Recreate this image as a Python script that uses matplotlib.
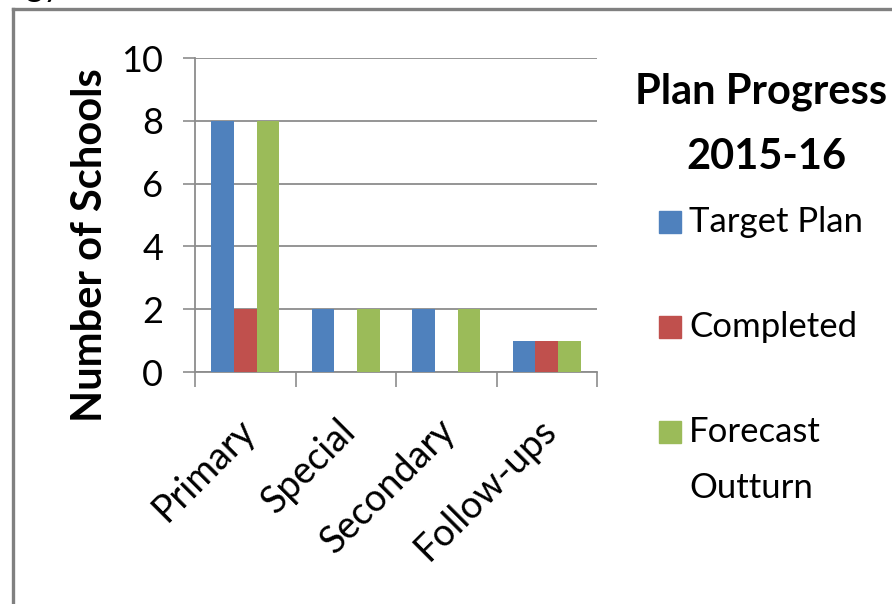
"""Plan progress 2015-16 clustered bar chart."""

import matplotlib

matplotlib.use("Agg")
import matplotlib.pyplot as plt
import matplotlib.transforms as mtransforms
import numpy as np
from matplotlib.lines import Line2D
from matplotlib.patches import Rectangle

categories = ["Primary", "Special", "Secondary", "Follow-ups"]
series_names = ["Target Plan", "Completed", "Forecast\nOutturn"]
target_plan = [8, 2, 2, 1]
completed = [2, 0, 0, 1]
forecast_outturn = [8, 2, 2, 1]
y_ticks = [0, 2, 4, 6, 8, 10]

series_values = [target_plan, completed, forecast_outturn]
colors = ["#4F81BD", "#C0504D", "#9BBB59"]

plt.rcParams["font.family"] = ["Lato", "DejaVu Sans"]

W, H = 892, 604
fig = plt.figure(figsize=(W / 100, H / 100), dpi=100)
ax = fig.add_axes([195 / W, 1 - 372 / H, 402 / W, 314 / H])

x = np.arange(len(categories))
bar_w = 0.225
offsets = [-bar_w, 0.0, bar_w]
for vals, off, col in zip(series_values, offsets, colors):
    ax.bar(x + off, vals, width=bar_w, color=col, zorder=3, linewidth=0)

ax.set_xlim(-0.5, len(categories) - 0.5)
ax.set_ylim(0, 10)
ax.set_yticks(y_ticks)
ax.set_yticklabels([str(v) for v in y_ticks], fontsize=26)
ax.yaxis.grid(True, color="#8c8c8c", linewidth=1.3, zorder=0)
ax.tick_params(axis="y", length=9, width=1.2, color="#8c8c8c", pad=14)

ax.set_xticks(x)
ax.set_xticklabels(categories, fontsize=27, rotation=45, ha="right", va="top",
                   rotation_mode="anchor")
ax.set_xticks(np.arange(-0.5, len(categories)), minor=True)
ax.tick_params(axis="x", which="major", length=0, pad=16)
ax.tick_params(axis="x", which="minor", length=11, width=1.2, color="#8c8c8c")
shift = mtransforms.ScaledTranslation(-9 / 100, -18 / 100, fig.dpi_scale_trans)
for lab in ax.get_xticklabels():
    lab.set_transform(lab.get_transform() + shift)

for side in ("top", "right"):
    ax.spines[side].set_visible(False)
for side in ("left", "bottom"):
    ax.spines[side].set_color("#8c8c8c")
    ax.spines[side].set_linewidth(1.3)

ax.set_ylabel("Number of Schools", fontsize=30, fontweight="bold")
ax.yaxis.set_label_coords((109 - 195) / 402, (372 - 245) / 314)

# legend drawn by hand to match the wide spacing
fig.text(761 / W, 1 - 92 / H, "Plan Progress", fontsize=30, fontweight="bold",
         ha="center", va="center")
fig.text(766 / W, 1 - 157 / H, "2015-16", fontsize=30, fontweight="bold",
         ha="center", va="center")
entry_y = [222, 327, 432]
for name, col, yy in zip(series_names, colors, entry_y):
    fig.patches.append(Rectangle((659 / W, 1 - (yy + 11) / H), 22 / W, 22 / H,
                                 color=col, transform=fig.transFigure))
    first, *rest = name.split("\n")
    fig.text(689 / W, 1 - yy / H, first, fontsize=25, ha="left", va="center")
    if rest:
        fig.text(689 / W, 1 - (yy + 56) / H, rest[0], fontsize=25, ha="left",
                 va="center")

# outer frame and clipped heading above it
frame_kw = dict(color="#808080", linewidth=2.4, transform=fig.transFigure)
fig.add_artist(Line2D([13 / W, 1], [1 - 9 / H, 1 - 9 / H], **frame_kw))
fig.add_artist(Line2D([13 / W, 13 / W], [0, 1 - 9 / H], **frame_kw))
fig.text(26 / W, 1 + 4 / H, "gy", fontsize=24, ha="left", va="baseline")

fig.savefig("out.png", dpi=100)
